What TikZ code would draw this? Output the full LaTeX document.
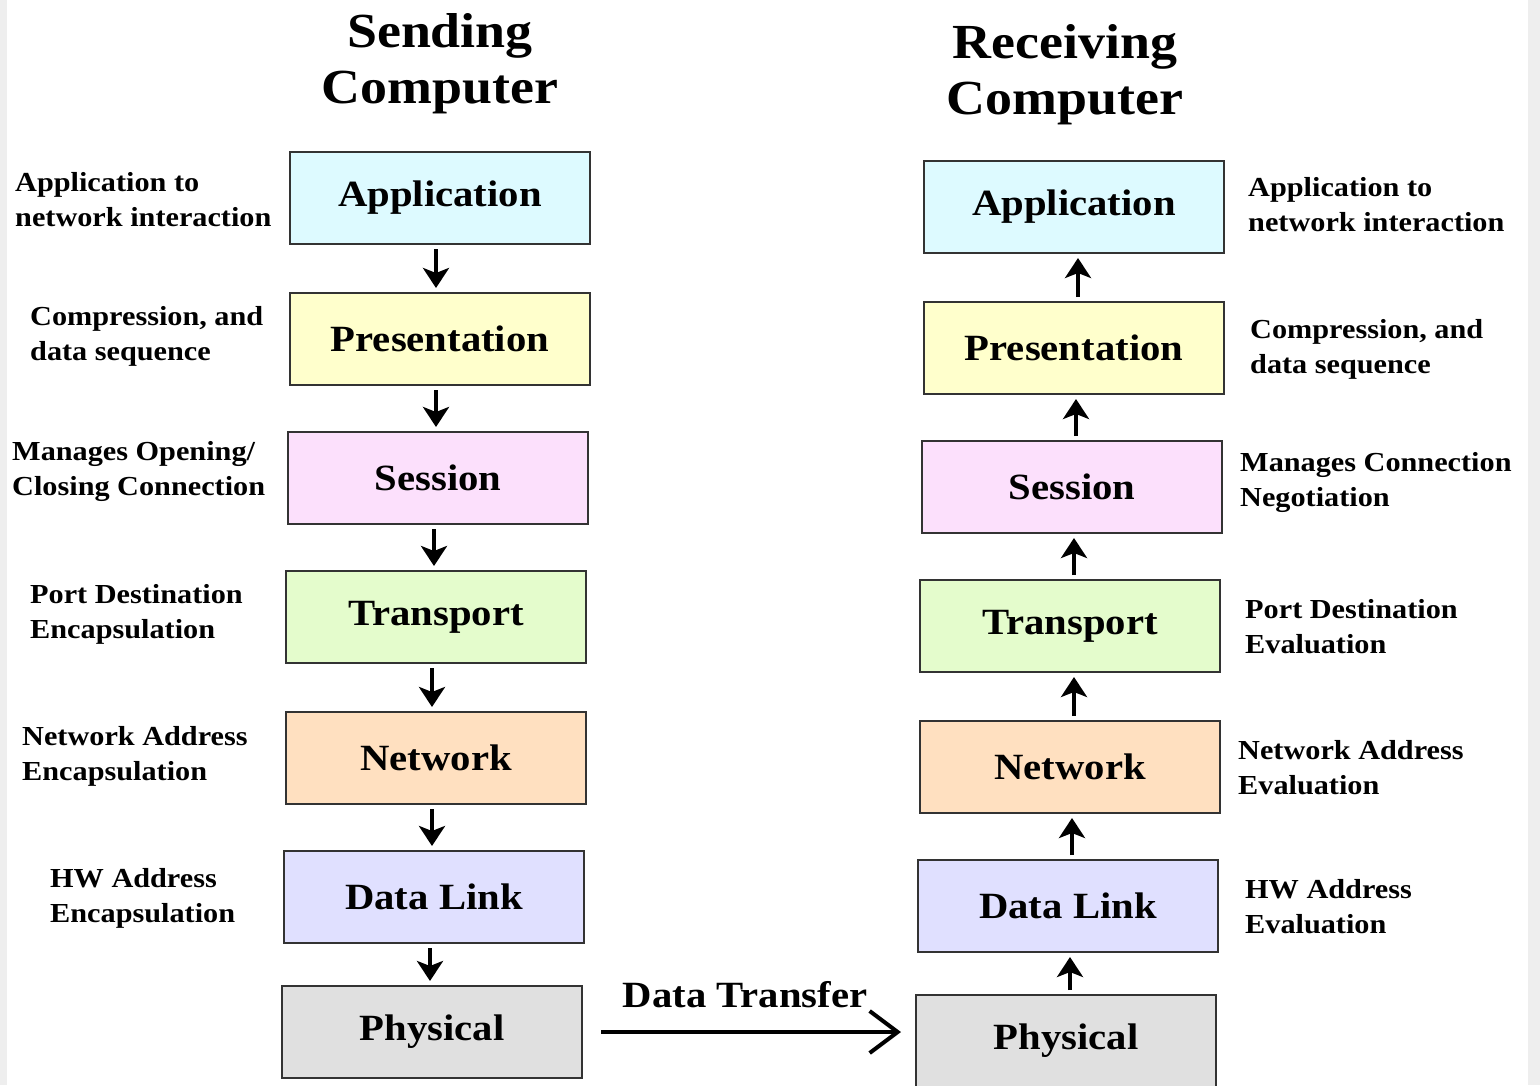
\documentclass[tikz,border=0pt]{standalone}
\usepackage{fontspec}
\setmainfont{Liberation Serif}[FakeStretch=1.1]
\usetikzlibrary{arrows.meta}
\definecolor{cApp}{HTML}{DDFAFF}
\definecolor{cPres}{HTML}{FFFFCC}
\definecolor{cSess}{HTML}{FCE0FC}
\definecolor{cTrans}{HTML}{E4FCCC}
\definecolor{cNet}{HTML}{FFE0C0}
\definecolor{cDL}{HTML}{E0E0FF}
\definecolor{cPhys}{HTML}{E0E0E0}
\definecolor{edgegray}{HTML}{EEEEEE}
\definecolor{boxline}{HTML}{333333}
\tikzset{
  layer/.style={draw=boxline, line width=2pt, minimum width=300pt, minimum height=92pt,
    inner sep=0pt, font=\fontsize{37}{40}\selectfont\bfseries},
  sidelabel/.style={anchor=west, align=left, inner sep=0pt,
    font=\fontsize{27.5}{35}\selectfont\bfseries},
  title/.style={align=center, inner sep=0pt, font=\fontsize{49}{56}\selectfont\bfseries},
  downarrow/.style={line width=4pt, -{Stealth[length=20pt,width=26pt,inset=5pt]},
    shorten <=4pt, shorten >=4pt},
  transfer/.style={line width=4pt, -{Straight Barb[length=28pt,width=42pt]}}
}
\begin{document}
\begin{tikzpicture}[x=1pt,y=-1pt]
\useasboundingbox (0,0) rectangle (1540,1085);
\fill[white] (0,0) rectangle (1540,1085);
\fill[edgegray] (0,0) rectangle (7,1085);
\fill[edgegray] (1528,0) rectangle (1540,1085);

% titles
\node[title] (tl) at (440,64) {Sending\\Computer};
\node[title] (tr) at (1065,75) {Receiving\\Computer};

% left stack
\node[layer, fill=cApp]   (la) at (440,198)  {Application};
\node[layer, fill=cPres]  (lp) at (440,339)  {Presentation};
\node[layer, fill=cSess]  (ls) at (438,478)  {Session};
\node[layer, fill=cTrans] (lt) at (436,617)  {Transport};
\node[layer, fill=cNet]   (ln) at (436,758)  {Network};
\node[layer, fill=cDL]    (ld) at (434,897)  {Data Link};
\node[layer, fill=cPhys]  (lh) at (432,1032) {Physical};

% right stack
\node[layer, fill=cApp]   (ra) at (1074,207)  {Application};
\node[layer, fill=cPres]  (rp) at (1074,348)  {Presentation};
\node[layer, fill=cSess]  (rs) at (1072,487)  {Session};
\node[layer, fill=cTrans] (rt) at (1070,626)  {Transport};
\node[layer, fill=cNet]   (rn) at (1070,767)  {Network};
\node[layer, fill=cDL]    (rd) at (1068,906)  {Data Link};
\node[layer, fill=cPhys]  (rh) at (1066,1041) {Physical};

% left labels
\node[sidelabel] (l1) at (15,200) {Application to\\network interaction};
\node[sidelabel] (l2) at (30,336) {Compression, and\\data sequence};
\node[sidelabel] (l3) at (12,471) {Manages Opening/\\Closing Connection};
\node[sidelabel] (l4) at (30,614) {Port Destination\\Encapsulation};
\node[sidelabel] (l5) at (22,756) {Network Address\\Encapsulation};
\node[sidelabel] (l6) at (50,898) {HW Address\\Encapsulation};

% right labels
\node[sidelabel] (r1) at (1248,205) {Application to\\network interaction};
\node[sidelabel] (r2) at (1250,349) {Compression, and\\data sequence};
\node[sidelabel] (r3) at (1240,482) {Manages Connection\\Negotiation};
\node[sidelabel] (r4) at (1245,627) {Port Destination\\Evaluation};
\node[sidelabel] (r5) at (1238,768) {Network Address\\Evaluation};
\node[sidelabel] (r6) at (1245,907) {HW Address\\Evaluation};

% left arrows (down)
\foreach \a/\b in {la/lp, lp/ls, ls/lt, lt/ln, ln/ld, ld/lh}
  \draw[downarrow] ([xshift=-4pt]\a.south) -- ([xshift=-4pt]\a.south |- \b.north);

% right arrows (up)
\foreach \a/\b in {rh/rd, rd/rn, rn/rt, rt/rs, rs/rp, rp/ra}
  \draw[downarrow] ([xshift=4pt]\a.north) -- ([xshift=4pt]\a.north |- \b.south);

% data transfer
\node[inner sep=0pt, font=\fontsize{37}{40}\selectfont\bfseries] (dt) at (745,995) {Data Transfer};
\draw[transfer] ([xshift=18pt]lh.east) -- ([xshift=-14pt]lh.east -| rh.west);
\end{tikzpicture}
\end{document}
